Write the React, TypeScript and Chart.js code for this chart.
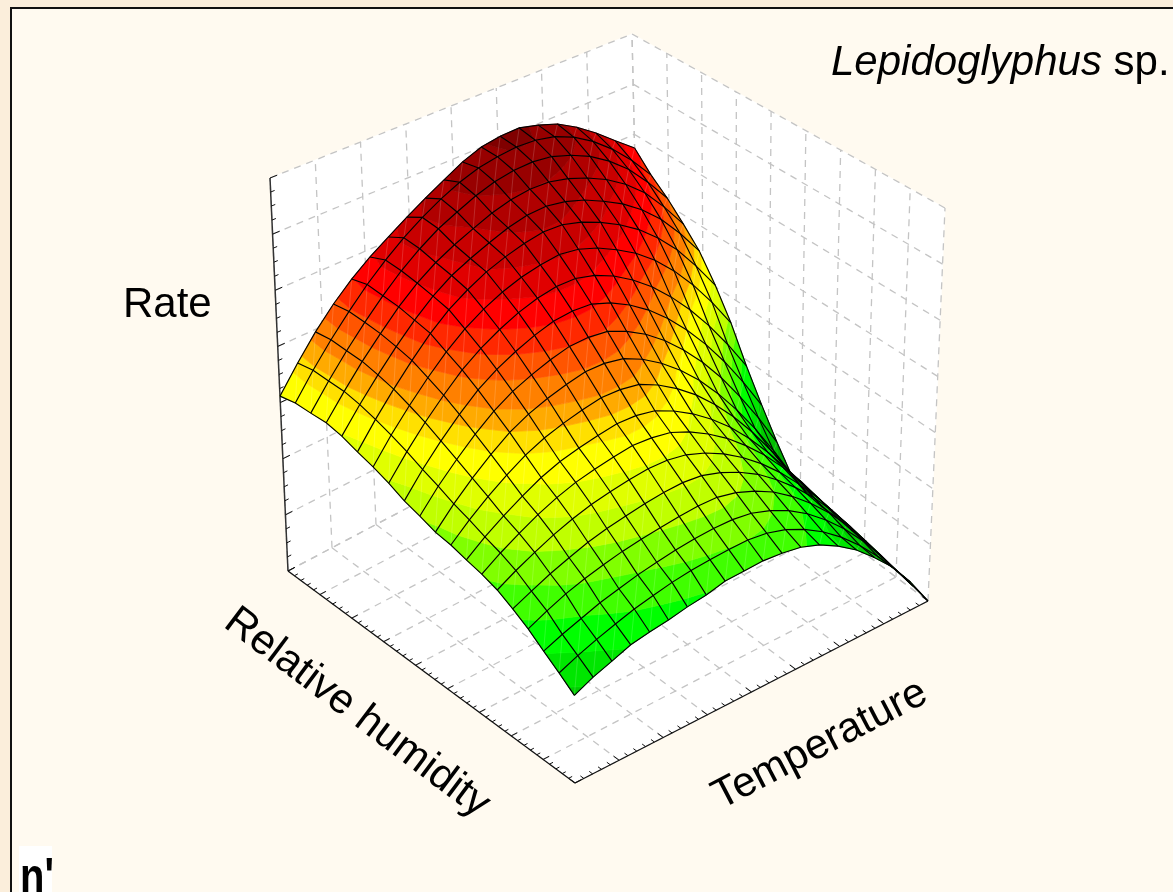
import React, { useEffect, useRef } from "react";
import { Chart, registerables } from "chart.js";

Chart.register(...registerables);

// Rate surface, rows run along relative humidity, columns along temperature.
const rate00 = [.445,.507,.565,.615,.658,.694,.725,.756,.785,.812,.839,.858,.866,.867,.853,.834,.803,.764,.719,.675];
const rate01 = [.453,.514,.570,.621,.669,.711,.748,.780,.808,.831,.848,.857,.862,.859,.847,.824,.790,.746,.692,.627];
const rate02 = [.453,.512,.567,.618,.665,.708,.744,.775,.798,.820,.836,.845,.847,.840,.822,.797,.762,.717,.658,.590];
const rate03 = [.454,.511,.565,.614,.661,.701,.733,.758,.779,.799,.813,.820,.818,.806,.786,.760,.725,.679,.617,.546];
const rate04 = [.446,.503,.556,.606,.652,.692,.724,.747,.767,.785,.797,.800,.791,.774,.749,.720,.682,.633,.571,.499];
const rate05 = [.432,.491,.545,.596,.643,.682,.712,.737,.755,.769,.778,.776,.762,.740,.712,.677,.632,.577,.509,.433];
const rate06 = [.420,.477,.529,.577,.621,.658,.687,.710,.727,.738,.744,.737,.719,.693,.662,.621,.570,.509,.438,.358];
const rate07 = [.405,.461,.512,.558,.600,.633,.660,.682,.698,.707,.707,.694,.671,.639,.599,.550,.493,.427,.352,.269];
const rate08 = [.387,.442,.491,.535,.575,.605,.629,.649,.664,.669,.666,.648,.621,.586,.542,.489,.428,.358,.279,.192];
const rate09 = [.375,.426,.470,.511,.547,.575,.595,.612,.625,.627,.621,.600,.571,.533,.486,.431,.367,.293,.212,.122];
const rate10 = [.361,.408,.449,.486,.519,.543,.561,.575,.586,.586,.577,.554,.522,.482,.434,.376,.310,.236,.153,.061];
const rate11 = [.355,.394,.429,.460,.488,.509,.524,.536,.546,.545,.537,.514,.483,.445,.398,.343,.280,.209,.130,.043];
const rate12 = [.344,.378,.407,.434,.458,.476,.488,.498,.506,.505,.496,.474,.445,.409,.366,.315,.256,.190,.118,.038];
const rate13 = [.335,.364,.390,.414,.434,.450,.461,.470,.477,.475,.467,.447,.420,.387,.346,.299,.244,.183,.114,.039];
const rate14 = [.322,.347,.369,.390,.407,.421,.431,.439,.445,.445,.437,.420,.396,.365,.327,.282,.230,.172,.107,.034];
const rate15 = [.302,.323,.343,.360,.376,.388,.397,.406,.412,.415,.411,.397,.376,.349,.313,.271,.222,.165,.101,.030];
const rate16 = [.280,.301,.320,.335,.347,.358,.366,.373,.379,.383,.383,.373,.355,.331,.298,.258,.211,.156,.093,.023];
const rate17 = [.253,.271,.287,.303,.315,.327,.336,.344,.350,.354,.354,.348,.333,.311,.281,.243,.198,.145,.085,.017];
const rate18 = [.227,.246,.263,.278,.292,.303,.313,.320,.325,.328,.330,.325,.312,.291,.263,.227,.184,.133,.075,.009];
const rate19 = [.200,.221,.237,.254,.263,.270,.280,.287,.299,.302,.305,.302,.295,.279,.254,.222,.180,.133,.072,.000];
const rateRows = [rate00,rate01,rate02,rate03,rate04,rate05,rate06,rate07,rate08,rate09,rate10,rate11,rate12,rate13,rate14,rate15,rate16,rate17,rate18,rate19];

const bandEdges = [.05,.09,.13,.17,.21,.25,.29,.33,.37,.41,.45,.49,.52,.55,.59,.625,.66,.70,.74,.78,.82,.86];
const bandColors = ["#008200","#009600","#00aa00","#00be00","#00cc00","#00e600","#00ff00","#40ff00","#80ff00","#c0ff00","#e0ff00","#ffff00","#ffe000","#ffaa00","#ff8000","#ff5500","#ff2800","#ff0000","#e00000","#c80000","#b00000","#980000","#800000"];

const humidityMajor = 9, humidityMinor = 5, temperatureMajor = 8, temperatureMinor = 5, rateMajor = 7, rateMinor = 4;

// view frame: where the corners of the plot box fall on the page
const floorL = [288,571], floorF = [575,783], floorB = [640,385], floorR = [928,601];
const topL = [270,178], topF = [572,345], topB = [632,34], topR = [945,208];

const mix = (p: number[], q: number[], r: number[], s: number[], h: number, t: number, k: number) =>
  (1-h)*(1-t)*p[k] + h*(1-t)*q[k] + (1-h)*t*r[k] + h*t*s[k];
const project = (h: number, t: number, z: number) => {
  const f = (k: number) => mix(floorL,floorF,floorB,floorR,h,t,k)*(1-z) + mix(topL,topF,topB,topR,h,t,k)*z;
  return { x: f(0), y: f(1) };
};

type V = { h:number; t:number; z:number };
const clip = (poly: V[], level: number, keepAbove: boolean) => {
  const out: V[] = [];
  for (let a = 0; a < poly.length; a++) {
    const p = poly[a], q = poly[(a+1)%poly.length];
    const pin = keepAbove ? p.z >= level : p.z <= level;
    const qin = keepAbove ? q.z >= level : q.z <= level;
    if (pin) out.push(p);
    if (pin !== qin) {
      const u = (level-p.z)/(q.z-p.z);
      out.push({ h:p.h+u*(q.h-p.h), t:p.t+u*(q.t-p.t), z:level });
    }
  }
  return out;
};

const shape = (data: any[], color: string, edge = 0.7) => ({ data, showLine:true, fill:"shape", backgroundColor:color, borderColor:color, borderWidth:edge, pointRadius:0, tension:0 });
const stroke = (data: any[], color: string, width: number, dash: number[] = []) => ({ data, showLine:true, fill:false, borderColor:color, borderWidth:width, borderDash:dash, pointRadius:0, tension:0 });

function buildDatasets() {
  const paint: any[] = [];
  const grey = "#c4c4c4", dash = [7,6];
  const closed = (pts: {x:number;y:number}[]) => [...pts, pts[0]];
  const P = project;
  // walls and floor
  paint.push(shape(closed([P(0,0,0),P(0,1,0),P(0,1,1),P(0,0,1)]),"#ffffff"));
  paint.push(shape(closed([P(0,1,0),P(1,1,0),P(1,1,1),P(0,1,1)]),"#ffffff"));
  paint.push(shape(closed([P(0,0,0),P(1,0,0),P(1,1,0),P(0,1,0)]),"#ffffff"));
  for (let k = 0; k <= rateMajor; k++) {
    const z = k/rateMajor;
    paint.push(stroke([P(0,0,z),P(0,1,z)],grey,1.3,dash));
    paint.push(stroke([P(0,1,z),P(1,1,z)],grey,1.3,dash));
  }
  for (let k = 0; k <= temperatureMajor; k++) {
    const t = k/temperatureMajor;
    paint.push(stroke([P(0,t,0),P(0,t,1)],grey,1.3,dash));
    paint.push(stroke([P(0,t,0),P(1,t,0)],grey,1.3,dash));
  }
  for (let k = 0; k <= humidityMajor; k++) {
    const h = k/humidityMajor;
    paint.push(stroke([P(h,1,0),P(h,1,1)],grey,1.3,dash));
    paint.push(stroke([P(h,0,0),P(h,1,0)],grey,1.3,dash));
  }
  // axes and ticks
  paint.push(stroke([P(0,0,1),P(0,0,0)],"#333333",1.5));
  paint.push(stroke([P(0,0,0),P(1,0,0)],"#111111",1.2));
  paint.push(stroke([P(1,0,0),P(1,1,0)],"#111111",1.2));
  for (let k = 0; k <= humidityMajor*humidityMinor; k++) {
    const h = k/(humidityMajor*humidityMinor), d = k%humidityMinor===0 ? .017 : .01;
    paint.push(stroke([P(h,0,0),P(h,d,0)],"#111111",1));
  }
  for (let k = 0; k <= temperatureMajor*temperatureMinor; k++) {
    const t = k/(temperatureMajor*temperatureMinor), d = k%temperatureMinor===0 ? .02 : .012;
    paint.push(stroke([P(1,t,0),P(1-d,t,0)],"#111111",1));
  }
  for (let k = 0; k <= rateMajor*rateMinor; k++) {
    const z = k/(rateMajor*rateMinor), d = k%rateMinor===0 ? .02 : .011;
    paint.push(stroke([P(0,0,z),P(0,d,z)],"#111111",1));
  }
  // surface cells, far to near, cut at the colour bands
  const nr = rateRows.length-1, nc = rateRows[0].length-1;
  const cells: [number,number][] = [];
  for (let i = 0; i < nr; i++) for (let j = 0; j < nc; j++) cells.push([i,j]);
  cells.sort((a,b)=>(a[0]-a[1])-(b[0]-b[1]));
  for (const [i,j] of cells) {
    const node = (a:number,b:number):V => ({h:a/nr,t:b/nc,z:rateRows[a][b]});
    const quad = [node(i,j),node(i+1,j),node(i+1,j+1),node(i,j+1)];
    const zs = quad.map(v=>v.z), lo = Math.min(...zs), hi = Math.max(...zs);
    for (let b = 0; b < bandColors.length; b++) {
      const low = b===0 ? -1 : bandEdges[b-1], high = b===bandEdges.length ? 2 : bandEdges[b];
      if (high < lo || low > hi) continue;
      const poly = clip(clip(quad,low,true),high,false);
      if (poly.length < 3) continue;
      paint.push(shape(closed(poly.map(v=>P(v.h,v.t,v.z))),bandColors[b]));
    }
  }
  // faint triangle seams
  const seams: any[] = [];
  for (let i = 0; i < nr; i++) for (let j = 0; j < nc; j++) {
    seams.push(P((i+1)/nr,j/nc,rateRows[i+1][j]),P(i/nr,(j+1)/nc,rateRows[i][j+1]),{x:NaN,y:NaN});
  }
  paint.push(stroke(seams,"rgba(255,255,255,0.16)",1));
  // mesh
  for (let i = 0; i <= nr; i++) paint.push(stroke(rateRows[i].map((z,j)=>P(i/nr,j/nc,z)),"#000000",1.15));
  for (let j = 0; j <= nc; j++) paint.push(stroke(rateRows.map((row,i)=>P(i/nr,j/nc,row[j])),"#000000",1.15));
  return paint.reverse();
}

const pagePlugin = {
  id: "page",
  beforeDraw(chart: any) {
    const c = chart.ctx, w = chart.width, h = chart.height;
    c.save();
    c.fillStyle = "#fbeedb"; c.fillRect(0,0,w,h);
    c.fillStyle = "#fffaf0"; c.fillRect(10,7,w-10,h-7);
    c.fillStyle = "#111111"; c.fillRect(10,7,w-10,2); c.fillRect(10,7,2,h-7);
    c.fillStyle = "#ffffff"; c.fillRect(19,846,33,46);
    c.restore();
  },
  afterDraw(chart: any) {
    const c = chart.ctx;
    const sans = '"Liberation Sans", Arial, sans-serif';
    c.save();
    c.fillStyle = "#000000";
    c.textBaseline = "alphabetic";
    c.font = `42px ${sans}`;
    c.fillText("Rate",123,317);
    c.font = `italic 42px ${sans}`;
    c.fillText("Lepidoglyphus",831,75);
    const w = c.measureText("Lepidoglyphus").width;
    c.font = `42px ${sans}`;
    c.fillText(" sp.",831+w,75);
    const turned = (s:string,x:number,y:number,deg:number) => {
      c.save(); c.translate(x,y); c.rotate(deg*Math.PI/180);
      c.textAlign = "center"; c.textBaseline = "middle"; c.fillText(s,0,0); c.restore();
    };
    turned("Relative humidity",357,713,37);
    turned("Temperature",820,745,-27.5);
    c.save();
    c.translate(20,893); c.scale(0.8,1);
    c.font = `bold 50px ${sans}`;
    c.fillText("n'",0,0);
    c.restore();
    c.restore();
  },
};

export default function App() {
  const ref = useRef<HTMLCanvasElement>(null);
  useEffect(() => {
    document.body.style.margin = "0";
    const chart = new Chart(ref.current as HTMLCanvasElement, {
      type: "scatter",
      data: { datasets: buildDatasets() },
      options: {
        animation: false,
        responsive: false,
        events: [],
        layout: { padding: 0 },
        plugins: { legend: { display:false }, tooltip: { enabled:false }, title: { display:false } },
        scales: {
          x: { type:"linear", display:false, min:0, max:1173 },
          y: { type:"linear", display:false, min:0, max:892, reverse:true },
        },
      },
      plugins: [pagePlugin],
    } as any);
    return () => chart.destroy();
  }, []);
  return <canvas ref={ref} width={1173} height={892} style={{ display:"block" }} />;
}
